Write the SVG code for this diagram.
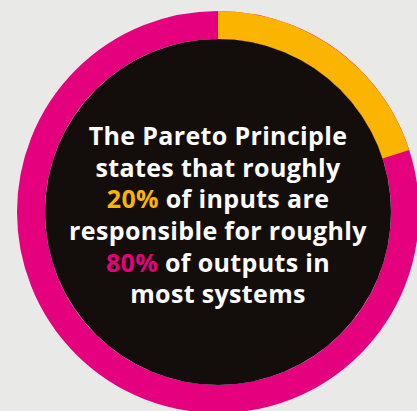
<svg xmlns="http://www.w3.org/2000/svg" width="417" height="411" viewBox="0 0 417 411">
  <style>
    .t { font-family: "Open Sans", Lato, "Liberation Sans", sans-serif; font-weight: 700; font-size: 25px; letter-spacing: 0.35px; fill: #ffffff; text-anchor: middle; }
    .y { fill: #fbb400; }
    .p { fill: #e5007e; }
  </style>
  <rect width="417" height="411" fill="#e9e9e7"/>
  <g id="ring">
    <circle cx="218" cy="212" r="187" fill="none" stroke="#e5007e" stroke-width="28"/>
    <path d="M218 11 A201 201 0 0 1 409.2 149.9 L382.5 158.5 A173 173 0 0 0 218 39 Z" fill="#fbb400"/>
  </g>
  <g id="center">
    <circle cx="218" cy="212" r="173" fill="#130e0b"/>
    <text class="t" x="218" y="145">The Pareto Principle</text>
    <text class="t" x="218" y="176.5">states that roughly</text>
    <text class="t" x="218" y="208"><tspan class="y">20%</tspan> of inputs are</text>
    <text class="t" x="218" y="240">responsible for roughly</text>
    <text class="t" x="218" y="271.5"><tspan class="p">80%</tspan> of outputs in</text>
    <text class="t" x="218" y="303">most systems</text>
  </g>
</svg>
